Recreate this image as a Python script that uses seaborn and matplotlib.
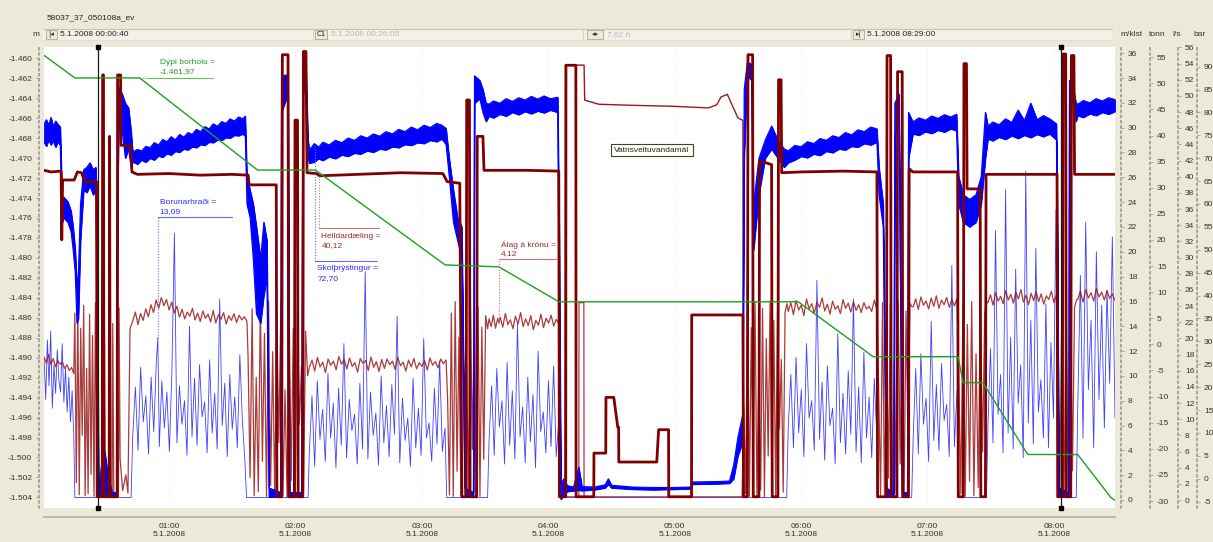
import numpy as np
import matplotlib
matplotlib.use("Agg")
import matplotlib.pyplot as plt
import seaborn as sns
from matplotlib.lines import Line2D
from matplotlib.patches import Rectangle
from matplotlib.transforms import IdentityTransform
from matplotlib.ticker import FixedLocator, FuncFormatter

# ---------------------------------------------------------------- data
# time axis: minutes after midnight, 5.1.2008
t_start, t_end = 0.667, 509.0
cursor_c1 = 26.08
cursor_span_h = 7.62

# hole depth (m)
depth_pts = [(0.667, -1459.7), (15.3, -1461.97), (46.1, -1461.97), (102.0, -1471.2),
             (129.5, -1471.2), (191.0, -1480.7), (216.6, -1480.9), (245.1, -1484.4),
             (358.7, -1484.4), (394.2, -1489.9), (434.5, -1489.9), (436.9, -1492.5),
             (446.3, -1492.5), (467.6, -1499.7), (491.3, -1499.7), (507.0, -1504.0),
             (509.0, -1504.3)]
depth_label = (46.1, -1461.97)

# drilling speed (m/klst)
speed_pieces = [
    (0.7, 14.8, [11.4, 8.1, 12.9, 9.2, 13.6, 7.4, 10.9, 8.6, 12.1, 9.6, 8.7, 12.6, 7.9, 10.6,
                 7.1, 9.9, 6.3, 8.8, 5.2]),
    (15.3, 0.2), (42.0, 0.2),
    (42.8, 54.0, [5.2, 9.1, 4.0, 10.7, 6.3, 8.4, 3.7, 9.9, 5.5, 11.2]),
    (54.7, 13.09),
    (55.4, 96.0, [4.3, 9.6, 5.8, 8.7, 3.9, 10.4, 21.5, 4.6, 9.2, 6.1, 8.0, 3.6, 14.0, 5.1, 9.8,
                  4.4, 10.9, 6.7, 7.9, 3.8, 11.3, 5.4, 8.6, 4.1, 16.2, 6.0, 9.4, 3.5, 10.1,
                  5.7, 8.3, 4.2, 11.7, 6.5, 3.2]),
    (96.8, 0.2), (126.0, 0.2),
    (126.6, 191.0, [3.8, 8.4, 2.7, 9.6, 4.9, 7.3, 3.1, 10.2, 5.0, 7.8, 2.6, 9.0, 4.4, 12.6,
                    3.4, 8.1, 5.6, 6.9, 2.9, 9.4, 4.1, 18.4, 3.3, 8.7, 5.2, 7.0, 2.8, 10.0,
                    4.6, 7.6, 3.5, 9.3, 5.3, 14.8, 3.0, 8.2, 4.8, 6.6, 2.7, 9.8, 4.2, 7.4,
                    3.6, 13.0, 5.0, 6.2, 3.1, 9.0, 4.5, 11.2, 3.9, 5.8]),
    (191.8, 0.2), (211.2, 0.2),
    (211.9, 245.0, [4.8, 9.2, 3.6, 10.6, 5.9, 8.0, 2.9, 11.1, 4.4, 8.8, 3.3, 14.2, 5.1, 7.5,
                    3.0, 9.9, 4.7, 8.5, 2.6, 12.0, 5.5, 7.1, 3.8, 9.6, 4.3, 10.8, 3.5, 6.4]),
    (245.8, 0.2), (353.2, 0.2),
    (353.9, 396.0, [5.8, 10.1, 4.2, 11.5, 5.4, 8.9, 3.5, 12.6, 6.6, 8.0, 4.0, 17.7, 4.9, 9.5,
                    3.2, 10.8, 6.0, 7.4, 2.9, 13.4, 4.6, 8.6, 3.7, 10.4, 5.3, 16.2, 3.9, 9.1,
                    3.0, 11.9, 5.0, 8.3, 3.4, 9.8, 4.8]),
    (396.8, 0.2), (412.5, 0.2),
    (413.2, 434.0, [5.0, 10.6, 3.7, 11.8, 6.1, 8.2, 3.1, 14.4, 4.8, 9.3, 4.0, 11.0, 6.4, 7.7,
                    3.5, 18.9, 4.3, 8.8]),
    (435.0, 0.2), (448.0, 0.2),
    (448.7, 481.0, [6.0, 12.2, 4.6, 21.7, 6.9, 10.1, 3.8, 25.0, 5.4, 13.1, 4.1, 18.6, 7.8,
                    10.9, 3.4, 26.5, 6.2, 14.5, 4.5, 20.3, 7.1, 9.7, 5.0, 15.8, 4.2, 12.7,
                    6.6, 23.4]),
    (481.8, 0.2), (490.6, 0.2),
    (491.3, 509.0, [7.3, 18.1, 5.0, 22.4, 8.9, 14.5, 4.2, 20.0, 8.1, 15.7, 5.8, 16.9, 9.4,
                    21.2, 6.6]),
]
speed_label = (54.7, 13.09)

# weight on bit (tonn)
load_pieces = [
    (0.7, 14.8, [-2.4, -3.6, -1.9, -3.9, -2.7, -4.3, -3.1, -3.8, -3.4, -4.6, -3.9, -5.0, -4.4,
                 -5.6]),
    (15.3, 25.8, [6.0, -26.5, 8.2, -28.8, 3.1, -17.4, 7.5, -29.0, -4.6, -28.6, 5.8, -24.9, 1.7,
                  -29.1, 8.0, -20.3]),
    (26.5, -29.2), (29.0, -29.2), (29.3, 8.0), (29.8, -29.2), (33.0, -29.2), (33.3, 4.0),
    (33.8, -29.2), (36.0, -29.2), (36.3, 7.0), (36.8, -22.0), (38.0, -28.0), (39.5, -25.0),
    (40.5, -28.5), (41.5, 3.0),
    (42.8, 97.0, [4.5, 6.2, 3.8, 5.9, 4.6, 6.8, 5.3, 7.6, 6.1, 8.5, 6.9, 9.0, 7.4, 8.6, 6.6,
                  8.1, 6.0, 7.3, 5.2, 6.7, 4.9, 6.2, 5.4, 6.9, 4.7, 6.0, 4.4, 6.4, 5.0, 5.8,
                  4.3, 6.5, 4.1, 5.7, 4.8, 6.1, 3.9, 5.5, 4.6, 5.9, 4.2, 5.6, 4.7, 5.3, 4.4]),
    (97.5, 125.8, [-2.0, -25.5, 6.8, -29.0, -6.3, -28.2, 7.9, -22.4, 2.1, -29.1, 8.3, -27.0,
                   -1.4, -29.2, 5.2, -18.8, 8.1, -28.9, -8.7, -29.2, 6.6, -26.1, 3.0, -29.0,
                   7.4, -15.3, -4.2, -28.4, 2.5, -6.0]),
    (126.6, 191.5, [-4.4, -3.0, -5.1, -2.5, -4.3, -3.4, -5.4, -2.8, -4.0, -3.2, -4.9, -2.3,
                    -3.8, -2.9, -4.7, -2.6, -4.2, -3.5, -5.3, -2.7, -3.6, -3.1, -5.0, -2.4,
                    -4.4, -3.3, -5.2, -2.9, -4.6, -2.8, -3.9, -3.2, -4.8, -2.5, -4.1, -3.4,
                    -5.1, -3.0, -4.3, -2.7, -4.7, -3.5, -4.2, -3.1, -4.9, -2.6, -4.0, -3.3,
                    -4.5, -2.8, -3.7, -3.0]),
    (192.2, 211.2, [-10.0, -28.8, 6.0, -29.1, 8.2, -24.3, 1.4, -29.0, 7.6, -27.5, -3.9, -29.2,
                    8.0, -20.1, 4.5, -28.7, 7.2, -29.1, 3.3, -22.0, 5.5, 3.0]),
    (211.9, 216.0, [4.9, 3.4, 5.6, 3.1, 5.0]),
    (216.6, 4.12),
    (217.2, 245.0, [5.2, 3.3, 5.9, 3.8, 4.7, 3.0, 5.4, 3.9, 6.1, 3.4, 4.9, 3.6, 5.5, 2.8, 4.6,
                    3.7, 5.8, 3.2, 5.0, 4.1, 5.6, 3.5, 4.8, 4.0]),
    (245.6, -29.2), (254.5, -29.2), (254.6, 8.0), (256.9, 8.0), (257.0, -29.2),
    (332.0, -29.2),
    (332.8, 353.3, [-12.0, -28.6, 7.4, -29.1, 3.2, -23.8, 8.1, -29.0, -6.5, -27.9, 6.9, -29.2,
                    1.1, -21.4, 8.3, -28.8, 4.6, -29.1, 7.0, -16.2, -2.9, -28.3, 6.2, 7.8]),
    (353.9, 396.0, [6.3, 8.0, 5.7, 8.4, 6.6, 7.5, 5.5, 8.7, 6.8, 7.8, 6.0, 8.1, 7.1, 8.9, 6.4,
                    7.7, 5.8, 8.3, 6.7, 7.4, 5.9, 8.6, 6.9, 7.9, 6.2, 8.2, 6.5, 7.6, 6.1, 8.0,
                    6.8, 7.3, 6.3, 8.5, 6.6]),
    (396.8, 412.6, [-8.0, -28.9, 8.0, -29.1, 2.7, -25.6, 7.8, -29.2, -3.5, -28.1, 8.3, -22.9,
                    5.1, -29.0, 6.4, -18.0, 7.9, 7.2]),
    (413.2, 434.0, [7.2, 8.7, 6.7, 9.1, 7.5, 8.3, 6.8, 8.9, 7.3, 9.3, 6.9, 8.5, 7.6, 9.0, 7.1,
                    8.6, 7.4, 8.8]),
    (434.8, 448.2, [-5.0, -28.7, 7.9, -29.1, 3.8, -26.2, 8.2, -29.0, -1.8, -27.4, 7.1, -20.6,
                    6.0, 8.1]),
    (448.7, 481.2, [8.0, 9.5, 7.5, 9.9, 8.3, 9.2, 7.8, 10.3, 8.5, 9.6, 7.9, 10.0, 8.7, 10.5,
                    8.1, 9.4, 7.6, 9.8, 8.4, 10.1, 8.2, 9.7, 7.7, 9.3, 8.6, 10.2, 8.0, 9.5]),
    (481.8, 490.8, [-10.0, -28.9, 8.4, -29.1, 4.4, -27.5, 8.0, -24.2, 7.1, 8.6]),
    (491.3, 509.0, [8.6, 10.2, 8.1, 10.5, 8.9, 9.9, 8.3, 10.7, 9.1, 10.0, 8.5, 10.3, 8.8, 9.7,
                    8.4]),
]
load_label = (216.6, 4.12)

# hanging load while the water supply failed (tonn)
hook_pts = [(248.0, -29.2), (248.2, 53.5), (257.0, 53.5), (257.3, 46.8), (264.0, 46.0),
            (280.0, 45.8), (300.0, 45.6), (316.0, 45.3), (320.0, 45.9), (322.0, 47.4),
            (325.0, 47.9), (327.0, 46.1), (330.0, 43.4), (332.4, 42.9), (332.6, -29.2)]

# total pumping (l/s)
flow_pts = [
    (0.7, 40.8), (4.0, 40.6), (8.8, 40.7), (9.1, 32.2), (9.5, 39.6), (15.0, 39.6), (16.5, 40.6),
    (18.5, 40.5), (20.0, 39.4), (25.6, 39.4), (25.9, 0.4),
    (28.3, 0.4), (28.5, 52.6), (28.9, 52.6), (29.1, 0.4), (31.6, 0.4), (31.8, 45.0), (32.1, 0.4),
    (35.4, 0.4), (35.6, 52.6), (37.0, 52.6), (37.2, 43.9), (41.8, 43.9), (42.4, 40.6),
    (45.0, 40.3), (60.0, 40.4), (75.0, 40.2), (90.0, 40.3), (97.6, 40.2),
    (98.0, 39.0), (110.9, 39.0), (111.2, 0.4), (113.5, 0.4), (113.8, 55.1), (116.5, 55.1),
    (116.8, 0.4), (119.5, 0.4), (119.8, 47.0), (121.0, 47.0), (121.3, 0.4), (123.5, 0.4),
    (123.8, 55.5), (125.0, 55.5), (125.5, 40.5),
    (130.0, 40.4), (131.4, 40.12), (150.0, 40.3), (170.0, 40.5), (190.0, 40.4), (192.0, 39.4),
    (198.0, 39.2), (199.0, 0.4), (201.0, 0.4), (201.3, 49.5), (202.6, 49.5), (202.9, 0.4),
    (206.0, 0.4), (206.3, 45.0), (209.0, 45.0), (209.5, 40.8),
    (215.0, 40.8), (230.0, 40.8), (245.0, 40.7), (245.3, 0.4), (248.3, 0.4), (248.4, 53.8),
    (253.1, 53.8), (253.2, 0.4), (261.6, 0.4), (261.7, 5.8), (267.3, 5.8), (267.4, 12.7),
    (271.1, 12.7), (273.0, 9.0), (273.4, 9.0), (273.5, 4.7), (291.5, 4.7), (292.4, 8.7),
    (297.1, 8.7), (297.2, 0.4), (308.0, 0.4), (308.1, 22.9), (332.4, 22.9), (332.7, 0.4),
    (334.5, 0.4), (334.8, 55.1), (337.0, 55.1), (337.3, 0.4), (340.0, 0.4), (340.3, 42.0),
    (346.0, 41.5), (346.3, 0.4), (349.0, 0.4), (349.3, 52.0), (350.5, 52.0), (350.8, 40.5),
    (360.0, 40.6), (380.0, 40.7), (396.0, 40.6), (396.3, 0.4), (400.5, 0.4), (400.8, 55.0),
    (402.5, 55.0), (402.8, 0.4), (405.5, 0.4), (405.8, 53.0), (408.0, 53.0), (408.3, 0.4),
    (411.0, 0.4), (411.3, 41.0), (413.0, 40.6),
    (434.3, 40.6), (434.6, 0.4), (437.0, 0.4), (437.3, 54.0), (438.5, 54.0), (438.8, 38.5),
    (445.0, 38.5), (445.3, 0.4), (447.5, 0.4), (447.8, 40.3),
    (481.5, 40.3), (481.8, 0.4), (484.0, 0.4), (484.3, 55.2), (485.6, 55.2), (485.9, 0.4),
    (488.0, 0.4), (488.3, 55.0), (489.5, 55.0), (489.8, 40.3), (509.0, 40.3),
]
flow_label = (131.4, 40.12)

# flushing pressure (bar): time, low, high
pressure_rows = [
    (0.7, 73.5, 77.5), (1.8, 72.6, 78.4), (2.9, 74.0, 77.2), (4.0, 72.9, 78.9),
    (5.1, 73.8, 76.9), (6.2, 72.4, 78.1), (7.3, 73.6, 77.4), (8.4, 72.8, 76.8),
    (9.0, 60, 66), (9.4, 56, 60), (10.0, 57, 61.5), (12.0, 56, 60.5), (13.5, 54, 58.5),
    (14.5, 50, 55), (15.5, 45, 50), (16.3, 34, 42), (17.0, 35, 45), (18.0, 52, 60),
    (19.5, 63, 67.5), (21.0, 62.5, 68), (22.5, 64, 69), (24.0, 62, 67.5), (25.3, 63, 68),
    (26.0, 30, 50), (26.6, -4, -2),
    (28.0, -4, 3), (29.5, -3, 6), (31.0, -4, 1), (33.0, -4, -3), (35.2, -4, -3),
    (35.6, 60, 70), (36.3, 80, 85.5), (37.8, 76, 84), (39.3, 70, 82), (40.8, 72, 81),
    (42.0, 68, 76),
    (42.8, 69.2, 71.4), (45, 68.7, 71.9), (47, 69.6, 71.6), (49, 69.1, 72.6), (51, 70.0, 72.3),
    (53, 69.6, 73.4), (55, 70.5, 72.9), (57, 70.2, 74.1), (59, 71.0, 73.6), (61, 70.7, 74.7),
    (63, 71.5, 74.0), (65, 71.3, 75.2), (67, 72.0, 74.6), (69, 71.8, 75.6), (71, 72.5, 75.2),
    (73, 72.3, 76.3), (75, 73.0, 75.8), (77, 72.8, 76.9), (79, 73.5, 76.4), (81, 73.4, 77.5),
    (83, 74.0, 77.0), (85, 73.9, 78.0), (87, 74.5, 77.6), (89, 74.4, 78.6), (91, 75.0, 78.1),
    (93, 74.9, 79.0), (95, 75.3, 78.6), (96.2, 74.8, 79.2),
    (97.0, 60, 66), (98.5, 57, 63), (100.0, 48, 60), (101.5, 36, 55), (103.5, 34, 48),
    (105.0, 40, 56), (106.5, 44, 52), (107.5, -4, -2), (113.0, -4, -3), (113.4, 80, 88),
    (116.5, 84, 88.2), (117.2, -4, -3), (123.0, -4, -3), (123.5, 85, 91.5), (125.0, 84, 90),
    (126.0, 70, 74),
    (126.6, 68.9, 71.8), (129, 69.2, 73.2), (131, 69.9, 72.4), (133, 69.5, 73.5),
    (136, 70.3, 72.9), (139, 69.9, 73.9), (142, 70.7, 73.4), (145, 70.4, 74.4),
    (148, 71.1, 73.9), (151, 70.9, 74.9), (154, 71.6, 74.4), (157, 71.3, 75.3),
    (160, 72.0, 74.8), (163, 71.8, 75.8), (166, 72.5, 75.3), (169, 72.3, 76.3),
    (172, 73.0, 75.8), (175, 72.8, 76.8), (178, 73.4, 76.2), (181, 73.2, 77.2),
    (184, 73.9, 76.7), (187, 73.6, 77.6), (189.5, 74.2, 77.2), (191.5, 73.0, 76.5),
    (193, 66, 70), (195, 56, 63), (197, 52, 57), (199, 48, 55), (200.5, -4, -2),
    (204.5, -4, -3), (205, 82, 88), (207.5, 83, 87), (209, 80, 85), (210.5, 78, 82),
    (211.9, 79.2, 81.8), (214, 78.8, 82.5), (217, 79.6, 82.0), (220, 79.2, 83.0),
    (223, 80.0, 82.4), (226, 79.5, 83.2), (229, 80.2, 82.7), (232, 79.7, 83.5),
    (235, 80.3, 82.9), (238, 79.9, 83.6), (241, 80.5, 83.0), (244.5, 80.0, 83.3),
    (245.3, 30, 50), (246.0, -4.5, -1.0), (247.5, -3.5, 0.0), (249.0, -2.8, -1.5),
    (252.0, -2.6, -1.8), (254.5, -2.5, 2.5), (256.0, -2.6, -1.7), (262.0, -2.4, -1.8),
    (267.0, -2.0, -1.3), (268.5, -1.2, 0.0), (270.0, -2.0, -1.4), (280.0, -2.3, -1.8),
    (290.0, -2.4, -1.9), (300.0, -2.3, -1.9), (307.5, -2.2, -1.8), (308.5, -1.2, -0.7),
    (320.0, -1.1, -0.6), (326.0, -1.0, -0.5), (328.0, 0.0, 3.0), (330.0, 5.0, 9.0),
    (332.3, 8, 14),
    (333.0, 70, 85), (334.5, 88, 91), (336.5, 87, 90.5), (337.5, 50, 60), (340, 62, 70),
    (343, 70, 74), (346, 72, 77), (349, 70, 74), (352, 68, 72),
    (353.9, 69.0, 71.6), (357, 69.6, 72.8), (360, 70.4, 72.5), (363, 70.1, 73.6),
    (366, 70.9, 73.2), (369, 70.6, 74.3), (372, 71.5, 73.9), (375, 71.2, 74.9),
    (378, 72.0, 74.5), (381, 71.8, 75.6), (384, 72.6, 75.1), (387, 72.4, 76.2),
    (390, 73.2, 75.8), (393, 72.9, 76.8), (396, 73.5, 76.4),
    (397, 62, 68), (399, 55, 60), (400.5, -4, -2), (404, -4, -3), (404.5, 75, 82),
    (406.5, 78, 84), (408, -4, -3), (410.5, -4, -3), (411, 70, 80), (413, 75, 78),
    (413.2, 75.3, 78.0), (416, 75.0, 78.8), (419, 75.8, 78.3), (422, 75.4, 79.2),
    (425, 76.1, 78.7), (428, 75.7, 79.5), (431, 76.4, 79.0), (433.8, 76.0, 79.6),
    (434.8, 60, 66), (437, 56, 62), (440, 55, 61), (443, 56, 62), (445.5, 60, 66),
    (447.5, 70, 80),
    (448.7, 74.2, 77.0), (451, 73.8, 77.9), (454, 74.6, 77.3), (457, 74.1, 78.6),
    (460, 74.9, 77.8), (463, 74.3, 80.5), (466, 75.0, 78.2), (469, 74.5, 82.0),
    (472, 75.2, 78.4), (475, 74.7, 79.3), (478, 75.3, 78.6), (481.2, 74.0, 77.5),
    (481.8, 40, 50), (482.4, -4, -2), (487, -4, -3), (487.4, 82, 87), (489, 82, 86),
    (490.5, 78, 82),
    (491.3, 79.3, 81.8), (494, 78.9, 82.6), (497, 79.7, 82.1), (500, 79.3, 83.0),
    (503, 80.0, 82.5), (506, 79.6, 83.2), (509, 80.2, 82.8),
]
pressure_label = (129.5, 72.70)

# axis scales
depth_ticks = list(range(-1504, -1459, 2))
speed_ticks = list(range(0, 37, 2))
load_ticks = list(range(-30, 56, 5))
flow_ticks = list(range(0, 57, 2))
pressure_ticks = list(range(-5, 91, 5))

# ---------------------------------------------------------------- helpers
def expand(pieces):
    ts, vs = [], []
    for p in pieces:
        if len(p) == 3:
            ts.extend(np.linspace(p[0], p[1], len(p[2])))
            vs.extend(p[2])
        else:
            ts.append(p[0])
            vs.append(p[1])
    return np.asarray(ts, float), np.asarray(vs, float)


def is_num(v, dec=2):
    s = f"{v:,.{dec}f}"
    return s.replace(",", "#").replace(".", ",").replace("#", ".")


W, H, DPI = 1213, 542, 100
BEIGE = "#ECE9D8"
BLUE = "#0000FF"
MAROON = "#7F0000"
RED = "#9A1A1A"
GREEN = "#1F9F1F"
GREY = "#9C9C9C"
TXT = "#333333"
IDT = IdentityTransform()

sns.set_theme(style="white")
plt.rcParams["font.family"] = ["Liberation Sans", "DejaVu Sans"]
plt.rcParams["font.size"] = 6

fig = plt.figure(figsize=(W / DPI, H / DPI), dpi=DPI, facecolor=BEIGE)


def rect(x0, y0, x1, y1):
    return [x0 / W, 1 - y1 / H, (x1 - x0) / W, (y1 - y0) / H]


def ftext(x, y, s, **kw):
    kw.setdefault("va", "center")
    kw.setdefault("color", TXT)
    return fig.text(x / W, 1 - y / H, s, **kw)


def fline(xs, ys, **kw):
    fig.add_artist(Line2D(list(xs), [H - y for y in ys], transform=IDT, **kw))


def to_img(axis, t, v):
    x, y = axis.transData.transform((t, v))
    return x, H - y


# ---------------------------------------------------------------- axes
ax = fig.add_axes(rect(44, 47, 1115, 508))
ax.set_facecolor("white")
ax.set_xlim(t_start, t_end)
ax.set_ylim(-1505.06, -1458.87)
for s in ("top", "right"):
    ax.spines[s].set_visible(False)
ax.spines["left"].set_position(("outward", 3.5))
ax.spines["left"].set_linestyle((0, (1, 2)))
ax.spines["left"].set_color(GREY)
ax.spines["bottom"].set_position(("outward", 6.5))
ax.spines["bottom"].set_color("#B4B2A8")
ax.yaxis.set_major_locator(FixedLocator(depth_ticks))
ax.yaxis.set_major_formatter(FuncFormatter(lambda v, p: is_num(v, 0)))
ax.tick_params(axis="y", length=2, width=0.6, color=GREY, pad=3, labelsize=6, labelcolor=TXT)
hours = list(range(60, 481, 60))
ax.xaxis.set_major_locator(FixedLocator(hours))
ax.xaxis.set_minor_locator(FixedLocator([m for m in range(15, 509, 15) if m % 60]))
ax.xaxis.set_major_formatter(FuncFormatter(lambda v, p: f"{int(v) // 60:02d}:00\n5.1.2008"))
ax.tick_params(axis="x", which="major", direction="in", length=4, width=0.6, color="#B4B2A8",
               pad=4, labelsize=6, labelcolor=TXT)
ax.tick_params(axis="x", which="minor", direction="in", length=3, width=0.6, color="#B4B2A8")
for lab in ax.get_xticklabels():
    lab.set_linespacing(1.25)
for h in hours:
    ax.axvline(h, color="#EEEED8", lw=0.6, ls=(0, (1, 2)), zorder=0)
for d in depth_ticks:
    ax.axhline(d, color="#F2F2E2", lw=0.5, ls=(0, (1, 3)), zorder=0)


def twin(offset_px, lim, ticks):
    tw = ax.twinx()
    tw.set_ylim(*lim)
    for s in ("top", "bottom", "left"):
        tw.spines[s].set_visible(False)
    sp = tw.spines["right"]
    sp.set_position(("outward", offset_px * 0.72))
    sp.set_linestyle((0, (1, 2)))
    sp.set_color(GREY)
    tw.yaxis.set_major_locator(FixedLocator(ticks))
    tw.yaxis.set_major_formatter(FuncFormatter(lambda v, p: f"{v:.0f}"))
    tw.tick_params(axis="y", length=2, width=0.6, color=GREY, pad=3, labelsize=6,
                   labelcolor=TXT)
    tw.patch.set_visible(False)
    tw.set_xlim(t_start, t_end)
    return tw


ax_speed = twin(6, (-0.645, 36.5), speed_ticks)
ax_load = twin(35, (-31.34, 56.97), load_ticks)
ax_press = twin(82, (-6.38, 94.28), pressure_ticks)
ax_flow = twin(63, (-0.99, 56.06), flow_ticks)

ax_depth = ax.twinx()
ax_depth.set_ylim(ax.get_ylim())
ax_depth.set_xlim(t_start, t_end)
ax_depth.axis("off")

# ---------------------------------------------------------------- series
t_sp, v_sp = expand(speed_pieces)
sns.lineplot(x=t_sp, y=v_sp, ax=ax_speed, color=BLUE, lw=0.6, alpha=0.75,
             estimator=None, sort=False, legend=False)

t_ld, v_ld = expand(load_pieces)
sns.lineplot(x=t_ld, y=v_ld, ax=ax_load, color=RED, lw=0.9, alpha=0.85,
             estimator=None, sort=False, legend=False)

t_hk, v_hk = expand(hook_pts)
sns.lineplot(x=t_hk, y=v_hk, ax=ax_load, color=RED, lw=1.0,
             estimator=None, sort=False, legend=False)

pr = np.asarray(pressure_rows, float)
ax_press.fill_between(pr[:, 0], pr[:, 1], pr[:, 2], color=BLUE, lw=0.6)
sns.lineplot(x=pr[:, 0], y=pr[:, 1], ax=ax_press, color=BLUE, lw=0.8,
             estimator=None, sort=False, legend=False)
sns.lineplot(x=pr[:, 0], y=pr[:, 2], ax=ax_press, color=BLUE, lw=0.8,
             estimator=None, sort=False, legend=False)

t_fl, v_fl = expand(flow_pts)
sns.lineplot(x=t_fl, y=v_fl, ax=ax_flow, color=MAROON, lw=2.0,
             estimator=None, sort=False, legend=False)

t_dp, v_dp = expand(depth_pts)
sns.lineplot(x=t_dp, y=v_dp, ax=ax_depth, color=GREEN, lw=1.0,
             estimator=None, sort=False, legend=False)

for a in (ax_speed, ax_load, ax_press, ax_flow, ax_depth):
    a.set_xlabel("")
    a.set_ylabel("")
    a.set_xlim(t_start, t_end)
ax.set_xlabel("")
ax.set_ylabel("")
ax_depth.set_ylim(ax.get_ylim())

# cursors
cursor_2 = cursor_c1 + cursor_span_h * 60
for c in (cursor_c1, cursor_2):
    x, _ = to_img(ax, c, -1480)
    fline([x, x], [47, 508], color="#1A1A1A", lw=0.9, zorder=20)
    for yy in (47, 508):
        fig.add_artist(Rectangle((x - 2, H - yy - 2), 4, 4, transform=IDT, color="black",
                                 zorder=21))

# ---------------------------------------------------------------- annotations
def annotate(axis, pt, name, color, lcolor, under_y, length, text_below):
    x, y = to_img(axis, *pt)
    if abs(under_y - y) > 1:
        fline([x, x], [y, under_y], color=lcolor, lw=0.8, ls=(0, (1, 1.5)), zorder=15)
    fline([x, x + length], [under_y, under_y], color=lcolor, lw=0.8, zorder=15)
    val = is_num(pt[1])
    if text_below:
        ftext(x + 2, under_y + 8, name, color=color, fontsize=6)
        ftext(x + 2, under_y + 18, val, color=color, fontsize=6)
    else:
        ftext(x + 2, under_y - 14, name, color=color, fontsize=6)
        ftext(x + 2, under_y - 5, val, color=color, fontsize=6)


xd, yd = to_img(ax_depth, *depth_label)
fline([xd, xd + 8], [yd, yd], color=GREEN, lw=0.8, ls=(0, (1, 1.5)), zorder=15)
fline([xd + 8, xd + 73], [yd, yd], color="#5FBF5F", lw=0.8, zorder=15)
ftext(xd + 20, yd - 15, "Dýpi borholu =", color=GREEN)
ftext(xd + 20, yd - 6, is_num(depth_label[1]), color=GREEN)

annotate(ax_speed, speed_label, "Borunarhraði =", "#2B2BFF", "#6A6AFF", 217, 74, False)
annotate(ax_flow, flow_label, "Heildardæling =", "#9A2B2B", "#C07878", 228, 60, True)
annotate(ax_press, pressure_label, "Skolþrýstingur =", "#2B2BFF", "#6A6AFF", 261, 62, True)
annotate(ax_load, load_label, "Álag á krónu =", "#9A2B2B", "#C07878", 259, 57, False)

ftext(652, 150, "Vatnsveituvandamál", ha="center", color="#222222", fontsize=6,
      bbox=dict(boxstyle="square,pad=0.35", fc="#FFFFF2", ec="#404040", lw=0.8))

# ---------------------------------------------------------------- header and toolbar
ftext(47, 18, "58037_37_050108a_ev", ha="left", color="#222222")
ftext(36, 34, "m", ha="center")
for x, s in ((1131, "m/klst"), (1157, "tonn"), (1177, "l/s"), (1200, "bar")):
    ftext(x, 34, s, ha="center")

fig.add_artist(Rectangle((43, H - 40), 1069, 11, transform=IDT, fc="#F3F1E8", ec="none"))
fline([43, 1112], [29, 29], color="#C8C4B4", lw=0.8)
fline([43, 1112], [40, 40], color="#F2D6D6", lw=0.8)
for x0 in (313, 583, 851):
    fline([x0, x0], [29, 40], color="#D8D4C4", lw=0.8)


def button(x0, x1, s, color="#333333"):
    fig.add_artist(Rectangle((x0, H - 39), x1 - x0, 9, transform=IDT, fc="#ECE9D8",
                             ec="#A8A598", lw=0.6))
    ftext((x0 + x1) / 2, 34.5, s, ha="center", fontsize=5, color=color,
          family=["DejaVu Sans"])


def clock(m):
    sec = int(round(m * 60))
    return f"5.1.2008 {sec // 3600:02d}:{sec % 3600 // 60:02d}:{sec % 60:02d}"


button(46, 57, "|◂")
ftext(60, 34.5, clock(t_start), ha="left", color="#222222")
button(315, 327, "C1", color="#111111")
ftext(331, 34.5, clock(cursor_c1), ha="left", color="#B8B8B8")
button(587, 603, "◂▸")
ftext(607, 34.5, is_num(cursor_span_h) + " h", ha="left", color="#B8B8B8")
button(853, 864, "▸|")
ftext(867, 34.5, clock(t_end), ha="left", color="#222222")

fig.savefig("out.png", dpi=DPI, facecolor=BEIGE)
